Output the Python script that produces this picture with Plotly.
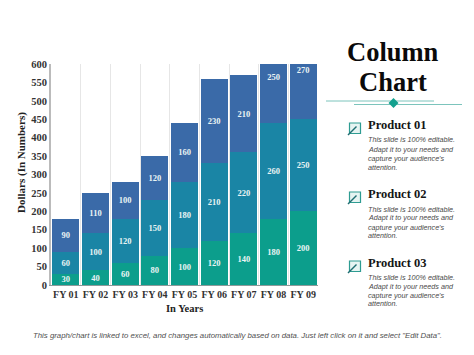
import plotly.graph_objects as go

W, H = 474, 355
SERIF = "Liberation Serif"
SANS = "Liberation Sans"

categories = ["FY 01", "FY 02", "FY 03", "FY 04", "FY 05", "FY 06", "FY 07", "FY 08", "FY 09"]
product_03 = [30, 40, 60, 80, 100, 120, 140, 180, 200]
product_02 = [60, 100, 120, 150, 180, 210, 220, 260, 250]
product_01 = [90, 110, 100, 120, 160, 230, 210, 250, 270]
y_ticks = [0, 50, 100, 150, 200, 250, 300, 350, 400, 450, 500, 550, 600]
note_lines = ["This slide is 100% editable.", "Adapt it to your needs and",
              "capture your audience's", "attention."]
footer = "This graph/chart is linked to excel, and changes automatically based on data. Just left click on it and select \"Edit Data\"."

def px(x): return x / W
def py(y): return 1 - y / H

fig = go.Figure()
for vals, col in [(product_03, "#0C9E8C"), (product_02, "#1A85A5"), (product_01, "#3A6AA8")]:
    fig.add_bar(x=categories, y=vals, marker=dict(color=col, line=dict(width=0)),
                text=vals, textposition="inside", insidetextanchor="middle",
                textangle=0, constraintext="none",
                textfont=dict(family=SERIF, size=8.5, color="#EAF4F4", weight="bold"))

ann, shp = [], []
def txt(x, y, s, size, color, family, xanchor="left", bold=False, italic=False, angle=0):
    ann.append(dict(xref="paper", yref="paper", x=px(x), y=py(y), text=s, showarrow=False,
                    xanchor=xanchor, yanchor="middle", textangle=angle,
                    font=dict(family=family, size=size, color=color,
                              weight="bold" if bold else "normal",
                              style="italic" if italic else "normal")))

txt(393, 52, "Column", 26.5, "#0a0a0a", SERIF, "center", True)
txt(393, 82, "Chart", 26.5, "#0a0a0a", SERIF, "center", True)
txt(237, 335, footer, 7.8, "#4f4f4f", SANS, "center", italic=True)
txt(184, 308, "In Years", 10.5, "#222222", SERIF, "center", True)
txt(21, 163, "Dollars (In Numbers)", 11, "#222222", SERIF, "center", True, angle=-90)

for (x0, x1, y) in [(326, 434, 101), (354, 462, 104.5)]:
    shp.append(dict(type="line", xref="paper", yref="paper", x0=px(x0), x1=px(x1), y0=py(y), y1=py(y),
                    line=dict(color="#7CC4BC", width=1)))
dx, dy, r = 393.5, 103, 5
shp.append(dict(type="path", xref="paper", yref="paper", fillcolor="#12A08E", line=dict(width=0),
                path=f"M{px(dx-r)},{py(dy)} L{px(dx)},{py(dy-r)} L{px(dx+r)},{py(dy)} L{px(dx)},{py(dy+r)} Z"))

for name, ty, ly in [("Product 01", 125, [140, 149, 158, 167]),
                     ("Product 02", 194, [209, 218, 227, 235.5]),
                     ("Product 03", 263, [277, 286, 295, 303.5])]:
    txt(366, ty, name, 12.5, "#151515", SERIF, bold=True)
    for s, y in zip(note_lines, ly):
        txt(366, y, s, 7.2, "#4a4a4a", SANS, italic=True)
    shp.append(dict(type="rect", xref="paper", yref="paper", x0=px(349.5), x1=px(360.5), y0=py(ty-2), y1=py(ty+8.5),
                    fillcolor="#E6F4F2", line=dict(color="#2E9C92", width=1.2)))
    shp.append(dict(type="line", xref="paper", yref="paper", x0=px(348), x1=px(356.5), y0=py(ty+10), y1=py(ty+1.5),
                    line=dict(color="#1E6E72", width=1.5)))

fig.update_layout(
    barmode="stack", bargap=0.1, width=W, height=H, showlegend=False,
    margin=dict(l=0, r=0, t=0, b=0), paper_bgcolor="white", plot_bgcolor="white",
    annotations=ann, shapes=shp,
    font=dict(family=SERIF, color="#333333"),
    xaxis=dict(domain=[px(51), px(318)], tickson="boundaries", ticks="", showgrid=True, gridcolor="#E6E6E6",
               gridwidth=1, showline=True, linecolor="#8F9A9A", linewidth=1, zeroline=False, tickangle=0,
               automargin=False,
               tickfont=dict(family=SERIF, size=10, color="#333333", weight="bold")),
    yaxis=dict(domain=[py(285), py(64)], range=[0, 600], tickvals=y_ticks, showgrid=False, zeroline=False,
               showline=True, linecolor="#BBBBBB", linewidth=2, ticks="", automargin=False,
               tickfont=dict(family=SERIF, size=10.5, color="#333333", weight="bold")),
)
fig.write_html("out.html", config=dict(displayModeBar=False),
               post_script="document.body.style.margin='0';document.body.style.overflow='hidden';")
